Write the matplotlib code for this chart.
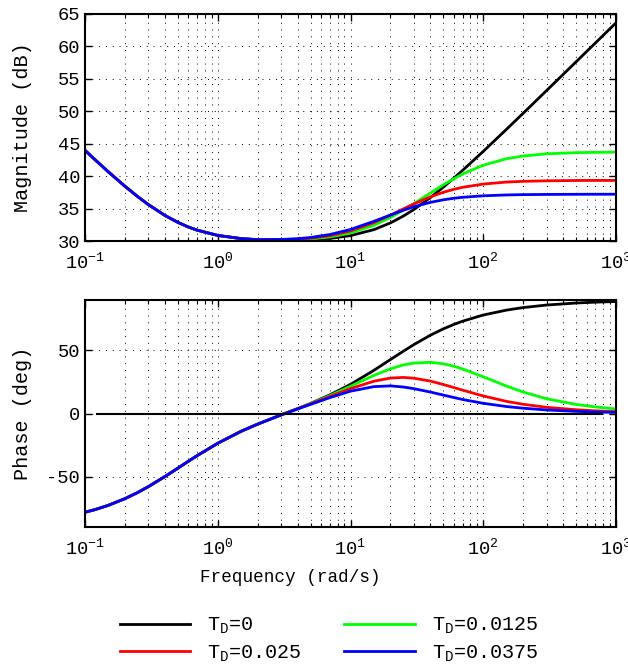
import matplotlib
matplotlib.use('Agg')
import matplotlib.pyplot as plt
import numpy as np
from matplotlib.ticker import LogLocator, FixedLocator, NullFormatter

plt.rcParams['font.family'] = ['Liberation Mono', 'DejaVu Sans Mono']
plt.rcParams['mathtext.fontset'] = 'custom'
plt.rcParams['mathtext.rm'] = 'Liberation Mono'
plt.rcParams['mathtext.it'] = 'Liberation Mono'
plt.rcParams['axes.unicode_minus'] = False
plt.rcParams['font.size'] = 13

# frequencies (rad/s)
w = [0.1, 0.12, 0.15, 0.2, 0.25, 0.3, 0.4, 0.5, 0.6, 0.7, 1, 1.5, 2,
     3, 4, 5, 7, 10, 15, 20, 25, 30, 40, 50, 60, 70, 100, 150, 200, 300, 500, 700, 1000]

# low frequency part, identical for all T_D (up to 2 rad/s)
mag_low = [43.98, 42.47, 40.66, 38.44, 36.83, 35.62, 33.94, 32.88, 32.16, 31.67,
           30.86, 30.37, 30.20]
phase_low = [-78.3, -76.1, -72.8, -67.5, -62.6, -58.0, -50.0, -43.4, -37.9, -33.4,
             -23.6, -14.1, -8.4]

# from 3 rad/s on
mag_td0 = [30.10, 30.12, 30.19, 30.39, 30.83, 31.75, 32.79, 33.84, 34.85, 36.70,
           38.30, 39.68, 40.90, 43.82, 47.24, 49.70, 53.20, 57.62, 60.54, 63.64]
mag_td1 = [30.15, 30.20, 30.31, 30.62, 31.23, 32.42, 33.63, 34.76, 35.76, 37.40,
           38.65, 39.60, 40.33, 41.69, 42.69, 43.11, 43.44, 43.62, 43.67, 43.70]
mag_td2 = [30.20, 30.28, 30.43, 30.82, 31.55, 32.83, 33.99, 34.95, 35.71, 36.81,
           37.51, 37.97, 38.28, 38.78, 39.09, 39.20, 39.28, 39.33, 39.34, 39.34]
mag_td3 = [30.24, 30.36, 30.54, 31.00, 31.78, 33.03, 34.01, 34.74, 35.28, 35.96,
           36.35, 36.59, 36.74, 36.97, 37.10, 37.15, 37.18, 37.20, 37.21, 37.21]

ph_td0 = [-1.1, 3.9, 8.0, 14.8, 23.1, 34.2, 42.8, 49.4, 54.6, 62.1, 67.1, 70.6,
          73.2, 78.1, 82.0, 84.0, 86.0, 87.6, 88.3, 88.8]
ph_td1 = [-1.1, 3.9, 7.8, 14.2, 21.6, 30.2, 35.4, 38.5, 40.0, 40.6, 39.4, 37.5,
          35.3, 29.1, 21.7, 17.0, 11.7, 7.2, 5.2, 3.6]
ph_td2 = [-1.1, 3.8, 7.6, 13.5, 19.7, 25.6, 28.1, 28.6, 28.0, 25.7, 23.0, 20.6,
          18.5, 13.9, 9.6, 7.3, 4.9, 3.0, 2.1, 1.5]
ph_td3 = [-1.2, 3.6, 7.2, 12.6, 17.7, 21.3, 21.9, 21.0, 19.7, 17.0, 14.6, 12.7,
          11.1, 8.1, 5.5, 4.2, 2.8, 1.7, 1.2, 0.8]

labels = [r'$\mathregular{T_D}$=0', r'$\mathregular{T_D}$=0.0125',
          r'$\mathregular{T_D}$=0.025', r'$\mathregular{T_D}$=0.0375']
colors = ['#000000', '#00ff00', '#ff0000', '#0000ff']
mags = [mag_td0, mag_td1, mag_td2, mag_td3]
phases = [ph_td0, ph_td1, ph_td2, ph_td3]

W, H = 628, 669
fig = plt.figure(figsize=(W / 100, H / 100), dpi=100)


def px_axes(x0, y0, x1, y1):
    return fig.add_axes([x0 / W, 1 - y1 / H, (x1 - x0) / W, (y1 - y0) / H])


ax1 = px_axes(85, 14, 616, 241)
ax2 = px_axes(85, 300, 616, 527)

lines = []
for mag, ph, c, lab in zip(mags, phases, colors, labels):
    l, = ax1.plot(w, mag_low + mag, color=c, lw=2, label=lab)
    ax2.plot(w, phase_low + ph, color=c, lw=2)
    lines.append(l)

ax2.plot([0.123, 790], [0, 0], color='k', lw=1.5)

for ax in (ax1, ax2):
    ax.set_xscale('log')
    ax.set_xlim(0.1, 1000)
    ax.xaxis.set_major_locator(LogLocator(base=10, numticks=10))
    ax.xaxis.set_minor_locator(LogLocator(base=10, subs=np.arange(2, 10), numticks=20))
    ax.xaxis.set_minor_formatter(NullFormatter())
    ax.grid(True, which='major', color='k', linestyle=(0, (1, 6)), lw=0.7)
    ax.grid(True, which='minor', axis='x', color='k', linestyle=(0, (1, 6)), lw=0.7)
    ax.tick_params(which='both', direction='in', top=True, right=True, labelsize=13.5)
    ax.tick_params(which='major', length=5, width=1)
    ax.tick_params(which='minor', length=3, width=0.8)
    ax.tick_params(axis='x', which='major', pad=8)
    for s in ax.spines.values():
        s.set_linewidth(1.5)

ax1.set_ylim(30, 65)
ax1.yaxis.set_major_locator(FixedLocator(np.arange(30, 66, 5)))
ax2.set_ylim(-90, 90)
ax2.yaxis.set_major_locator(FixedLocator([-50, 0, 50]))

ax1.set_ylabel('Magnitude (dB)', fontsize=14.5)
ax2.set_ylabel('Phase (deg)', fontsize=14.5)
ax1.yaxis.set_label_coords(-0.1, 0.5)
ax2.yaxis.set_label_coords(-0.1, 0.5)
fig.text(290 / W, 1 - 578 / H, 'Frequency (rad/s)', ha='center', va='center', fontsize=12.7)

handles = [lines[0], lines[2], lines[1], lines[3]]
hlabels = [labels[0], labels[2], labels[1], labels[3]]
fig.legend(handles, hlabels, ncol=2, frameon=False, loc='center',
           bbox_to_anchor=(329 / W, 1 - 640 / H), handlelength=3.5,
           handletextpad=0.85, columnspacing=2.1, labelspacing=0.35, fontsize=14.5)

fig.savefig('out.png', dpi=100)
